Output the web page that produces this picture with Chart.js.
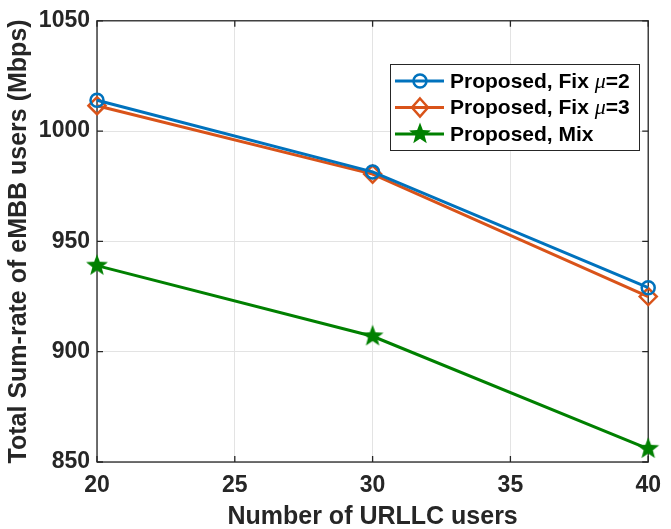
<!DOCTYPE html>
<html>
<head>
<meta charset="utf-8">
<script src="https://cdn.jsdelivr.net/npm/chart.js@4"></script>
<style>
  body { margin: 0; background: #fff; }
  canvas { display: block; }
</style>
</head>
<body>
<canvas id="chart" width="671" height="529"></canvas>
<script>
// data
var users = [20, 30, 40];
var fixMu2 = [1014, 981.5, 929];
var fixMu3 = [1011.5, 980.5, 925];
var mixed = [939, 907, 856];
var xTicks = [20, 25, 30, 35, 40];
var yTicks = [850, 900, 950, 1000, 1050];

var blue = '#0072BD';
var orange = '#D95319';
var green = '#008000';
var axisColor = '#262626';
var fontName = "'Liberation Sans', Arial, sans-serif";

// filled 5 point star, used as marker
function makeStar(size, color) {
  var c = document.createElement('canvas');
  c.width = size; c.height = size;
  var g = c.getContext('2d');
  var cx = size / 2, cy = size / 2, ro = size / 2 - 0.5, ri = ro * 0.42;
  g.beginPath();
  for (var i = 0; i < 10; i++) {
    var r = i % 2 ? ri : ro;
    var a = -Math.PI / 2 + i * Math.PI / 5;
    g.lineTo(cx + r * Math.cos(a), cy + r * Math.sin(a));
  }
  g.closePath();
  g.fillStyle = color;
  g.fill();
  return c;
}
var star = makeStar(24, green);

function pts(ys) {
  return users.map(function (u, i) { return { x: u, y: ys[i] }; });
}

// box around the axes with inward ticks, like matlab
var framePlugin = {
  id: 'frame',
  beforeDatasetsDraw: function (chart) {
    var ctx = chart.ctx, a = chart.chartArea;
    var xs = chart.scales.x, ys = chart.scales.y;
    ctx.save();
    ctx.strokeStyle = axisColor;
    ctx.lineWidth = 1.3;
    ctx.strokeRect(a.left, a.top, a.right - a.left, a.bottom - a.top);
    ctx.beginPath();
    xTicks.forEach(function (t) {
      var px = xs.getPixelForValue(t);
      ctx.moveTo(px, a.bottom); ctx.lineTo(px, a.bottom - 6);
      ctx.moveTo(px, a.top); ctx.lineTo(px, a.top + 6);
    });
    yTicks.forEach(function (t) {
      var py = ys.getPixelForValue(t);
      ctx.moveTo(a.left, py); ctx.lineTo(a.left + 6, py);
      ctx.moveTo(a.right, py); ctx.lineTo(a.right - 6, py);
    });
    ctx.stroke();
    ctx.restore();
  }
};

// legend box inside the plot
var legendPlugin = {
  id: 'boxLegend',
  afterDraw: function (chart) {
    var ctx = chart.ctx;
    var x0 = 390, y0 = 64, w = 249, h = 86;
    ctx.save();
    ctx.fillStyle = '#fff';
    ctx.fillRect(x0, y0, w, h);
    ctx.strokeStyle = axisColor;
    ctx.lineWidth = 1;
    ctx.strokeRect(x0 + 0.5, y0 + 0.5, w, h);
    var bold = 'bold 21px ' + fontName;
    var mu = 'italic 22px "Liberation Serif", serif';
    var rows = [
      { parts: [['Proposed, Fix ', bold], ['\u03bc', mu], ['=2', bold]], color: blue, mark: 'circle' },
      { parts: [['Proposed, Fix ', bold], ['\u03bc', mu], ['=3', bold]], color: orange, mark: 'diamond' },
      { parts: [['Proposed, Mix', bold]], color: green, mark: 'star' }
    ];
    rows.forEach(function (r, i) {
      var cy = 81 + i * 26.5;
      ctx.strokeStyle = r.color;
      ctx.lineWidth = 3;
      ctx.beginPath();
      ctx.moveTo(395, cy); ctx.lineTo(444, cy);
      ctx.stroke();
      ctx.lineWidth = 2.5;
      if (r.mark === 'circle') {
        ctx.beginPath(); ctx.arc(420, cy, 6.5, 0, Math.PI * 2); ctx.stroke();
      } else if (r.mark === 'diamond') {
        ctx.beginPath();
        ctx.moveTo(420, cy - 9); ctx.lineTo(428, cy); ctx.lineTo(420, cy + 9); ctx.lineTo(412, cy);
        ctx.closePath(); ctx.stroke();
      } else {
        ctx.drawImage(star, 420 - 12, cy - 12);
      }
      var tx = 450;
      ctx.fillStyle = '#000';
      ctx.textBaseline = 'middle';
      r.parts.forEach(function (p) {
        ctx.font = p[1];
        ctx.fillText(p[0], tx, cy + 1);
        tx += ctx.measureText(p[0]).width;
      });
    });
    ctx.restore();
  }
};

var tickFont = { family: fontName, size: 23, weight: 'bold' };
var titleFont = { family: fontName, size: 25, weight: 'bold' };

var ctxL = document.getElementById('chart').getContext('2d');
var myChart = new Chart(ctxL, {
  type: 'line',
  data: {
    datasets: [{
      label: 'Proposed, Fix \u03bc=2',
      data: pts(fixMu2),
      borderColor: blue,
      backgroundColor: 'transparent',
      borderWidth: 3,
      pointStyle: 'circle',
      pointRadius: 6.5,
      pointBorderWidth: 2.5
    }, {
      label: 'Proposed, Fix \u03bc=3',
      data: pts(fixMu3),
      borderColor: orange,
      backgroundColor: 'transparent',
      borderWidth: 3,
      pointStyle: 'rectRot',
      pointRadius: 8.5,
      pointBorderWidth: 2.5
    }, {
      label: 'Proposed, Mix',
      data: pts(mixed),
      borderColor: green,
      backgroundColor: green,
      borderWidth: 3,
      pointStyle: star,
      pointRadius: 12
    }]
  },
  options: {
    responsive: false,
    animation: false,
    clip: false,
    layout: { padding: { left: 0, top: 16, right: 14, bottom: 0 } },
    plugins: {
      legend: { display: false },
      tooltip: { enabled: false }
    },
    scales: {
      x: {
        type: 'linear',
        min: 20, max: 40,
        afterFit: function (s) { s.height = 67; },
        afterBuildTicks: function (s) { s.ticks = xTicks.map(function (v) { return { value: v }; }); },
        grid: { color: '#e3e3e3', lineWidth: 1, drawTicks: false },
        border: { display: false },
        ticks: { color: '#262626', padding: 10, font: tickFont, callback: function (v) { return String(v); } },
        title: {
          display: true,
          text: 'Number of URLLC users',
          color: '#262626',
          padding: { top: 0, bottom: -3 },
          font: titleFont
        }
      },
      y: {
        min: 850, max: 1050,
        afterFit: function (s) { s.width = 97; },
        afterBuildTicks: function (s) { s.ticks = yTicks.map(function (v) { return { value: v }; }); },
        grid: { color: '#e3e3e3', lineWidth: 1, drawTicks: false },
        border: { display: false },
        ticks: { color: '#262626', padding: 7, font: tickFont, callback: function (v) { return String(v); } },
        title: {
          display: true,
          text: 'Total Sum-rate of eMBB users (Mbps)',
          color: '#262626',
          padding: { top: 4, bottom: 0 },
          font: titleFont
        }
      }
    }
  },
  plugins: [framePlugin, legendPlugin]
});
</script>
</body>
</html>
